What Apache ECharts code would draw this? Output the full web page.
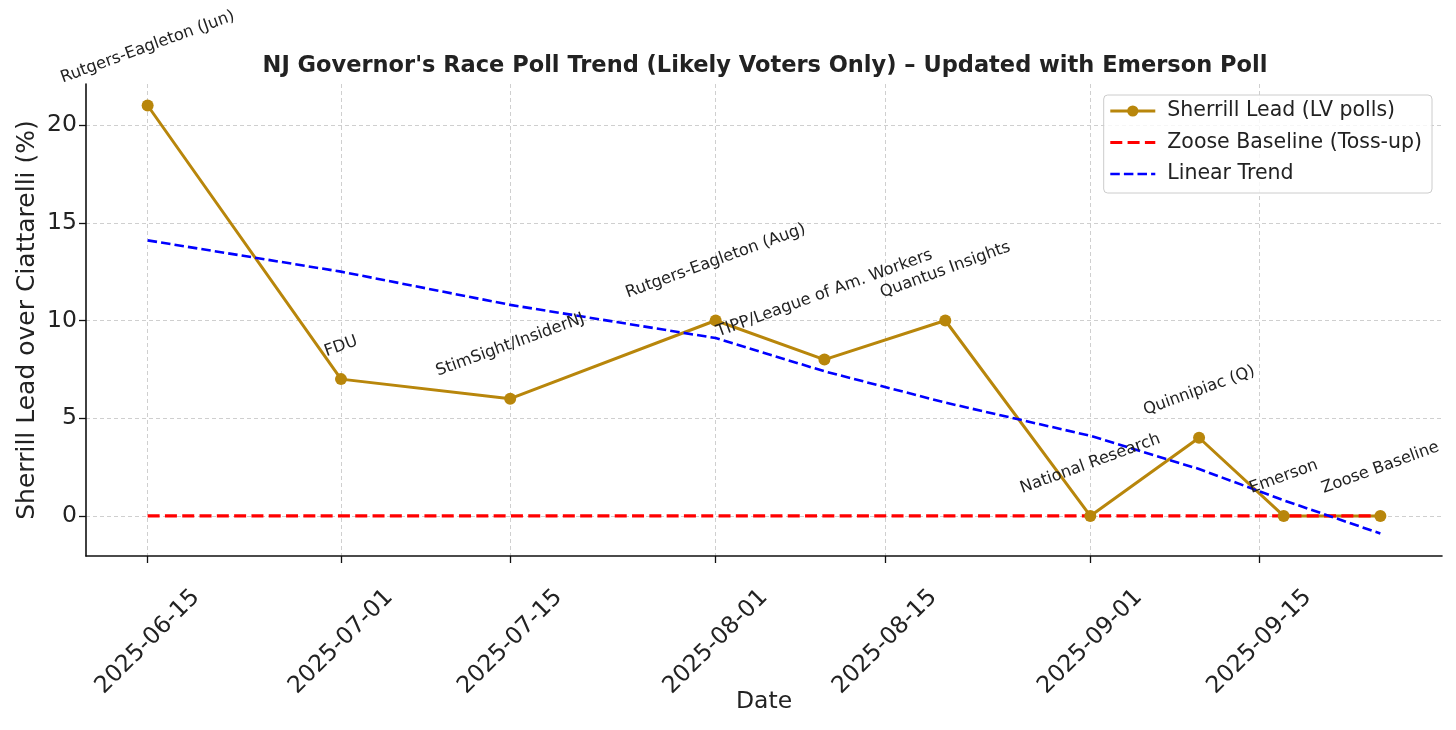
<!DOCTYPE html>
<html>
<head>
<meta charset="utf-8">
<title>NJ Governor's Race Poll Trend</title>
<script src="https://cdn.jsdelivr.net/npm/echarts@6/dist/echarts.min.js"></script>
<style>
  html, body { margin: 0; padding: 0; background: #fff; }
  #chart { width: 1456px; height: 730px; }
</style>
</head>
<body>
<div id="chart"></div>
<script>
// poll data (likely voters only)
var pollDates = ['2025-06-15', '2025-07-01', '2025-07-15', '2025-08-01', '2025-08-10',
                 '2025-08-20', '2025-09-01', '2025-09-10', '2025-09-17', '2025-09-25'];
var pollsters = ['Rutgers-Eagleton (Jun)', 'FDU', 'StimSight/InsiderNJ', 'Rutgers-Eagleton (Aug)',
                 'TIPP/League of Am. Workers', 'Quantus Insights', 'National Research',
                 'Quinnipiac (Q)', 'Emerson', 'Zoose Baseline'];
var sherrillLead = [21, 7, 6, 10, 8, 10, 0, 4, 0, 0];
var trendLead = [14.1, 12.5, 10.8, 9.1, 7.4, 5.8, 4.1, 2.4, 0.8, -0.9];
var baselineDates = ['2025-06-15', '2025-09-25'];
var baselineLead = [0, 0];
var xTickDates = ['2025-06-15', '2025-07-01', '2025-07-15', '2025-08-01',
                  '2025-08-15', '2025-09-01', '2025-09-15'];
var yTickValues = [0, 5, 10, 15, 20];

var FONT = '"DejaVu Sans", sans-serif';
var DAY = 86400000;
var GOLD = '#B8860B', RED = '#ff0000', BLUE = '#0000ff';
// dates go on a plain value axis as UTC ms, so the tick list can be irregular
function t(s) { return Date.parse(s + 'T00:00:00Z'); }
function fmtDate(v) { return new Date(v).toISOString().slice(0, 10); }

// annotations sit a fixed gap above the point, measured from the rotated box
var NOTE_SIZE = 16.3;
var ctx = document.createElement('canvas').getContext('2d');
ctx.font = NOTE_SIZE + 'px "DejaVu Sans"';
function lift(text) {
    var w = ctx.measureText(text).width, a = 20 * Math.PI / 180, h = NOTE_SIZE * 1.17;
    return 18 + (w * Math.sin(a) + h * Math.cos(a)) / 2;
}
var MARK = 12;
var pollData = pollDates.map(function (d, i) {
    return {
        value: [t(d), sherrillLead[i]],
        label: { position: [MARK / 2, MARK / 2 - lift(pollsters[i])] }
    };
});

var chart = echarts.init(document.getElementById('chart'), null, { renderer: 'canvas' });
chart.setOption({
    animation: false,
    backgroundColor: '#fff',
    textStyle: { fontFamily: FONT },
    title: {
        text: "NJ Governor's Race Poll Trend (Likely Voters Only) \u2013 Updated with Emerson Poll",
        left: 760, top: 50, textAlign: 'center',
        textStyle: { fontFamily: FONT, fontSize: 22.5, fontWeight: 'bold', color: '#222' }
    },
    legend: {
        orient: 'vertical', right: 24, top: 95,
        padding: [5, 10, 8, 5],
        itemWidth: 45, itemHeight: 14, itemGap: 9.5,
        borderColor: '#cccccc', borderWidth: 1, borderRadius: 4,
        backgroundColor: 'rgba(255,255,255,0.8)',
        textStyle: { fontFamily: FONT, fontSize: 20.5, color: '#222', lineHeight: 22, padding: [0, 0, 0, 7] },
        data: [
            { name: 'Sherrill Lead (LV polls)', lineStyle: { color: GOLD, width: 3 } },
            { name: 'Zoose Baseline (Toss-up)', itemStyle: { opacity: 0 },
              lineStyle: { color: RED, width: 3.2, type: [12, 5.3] } },
            { name: 'Linear Trend', itemStyle: { opacity: 0 },
              lineStyle: { color: BLUE, width: 2.6, type: [9.5, 4.1] } }
        ]
    },
    grid: { left: 86, right: 14, top: 84, bottom: 174, containLabel: false, outerBoundsMode: 'none' },
    xAxis: {
        type: 'value',
        min: t('2025-06-15') - 5.1 * DAY,
        max: t('2025-09-25') + 5.1 * DAY,
        name: 'Date', nameLocation: 'middle', nameGap: 134, nameMoveOverlap: false,
        nameTextStyle: { fontFamily: FONT, fontSize: 23.5, color: '#222' },
        axisLine: { onZero: false, lineStyle: { color: '#111', width: 1.6 } },
        axisTick: { show: true, length: 7, lineStyle: { color: '#111', width: 1.3 },
                    customValues: xTickDates.map(t) },
        axisLabel: {
            customValues: xTickDates.map(t),
            rotate: 45, align: 'center', verticalAlign: 'middle', margin: 86,
            fontFamily: FONT, fontSize: 23.5, color: '#222',
            formatter: fmtDate
        },
        splitLine: { show: true, lineStyle: { color: '#cfcfcf', width: 1, type: [4, 3] } }
    },
    yAxis: {
        type: 'value', min: -2.05, max: 22.1,
        name: 'Sherrill Lead over Ciattarelli (%)', nameLocation: 'middle', nameGap: 46, nameMoveOverlap: false,
        nameTextStyle: { fontFamily: FONT, fontSize: 25, color: '#222' },
        axisLine: { show: true, onZero: false, lineStyle: { color: '#111', width: 1.6 } },
        axisTick: { show: true, length: 7, lineStyle: { color: '#111', width: 1.3 },
                    customValues: yTickValues },
        axisLabel: { customValues: yTickValues, margin: 9, fontFamily: FONT, fontSize: 23.5, color: '#222' },
        splitLine: { show: true, lineStyle: { color: '#cfcfcf', width: 1, type: [4, 3] } }
    },
    series: [
        {
            name: 'Sherrill Lead (LV polls)', type: 'line', data: pollData,
            symbol: 'circle', symbolSize: MARK,
            itemStyle: { color: GOLD },
            lineStyle: { color: GOLD, width: 3 },
            label: {
                show: true, rotate: 20, align: 'center', verticalAlign: 'middle',
                fontFamily: FONT, fontSize: NOTE_SIZE, color: '#222',
                formatter: function (p) { return pollsters[p.dataIndex]; }
            },
            emphasis: { disabled: true }
        },
        {
            name: 'Zoose Baseline (Toss-up)', type: 'line',
            data: baselineDates.map(function (d, i) { return [t(d), baselineLead[i]]; }),
            symbol: 'none',
            itemStyle: { color: RED },
            lineStyle: { color: RED, width: 3.2, type: [12, 5.3] },
            emphasis: { disabled: true }
        },
        {
            name: 'Linear Trend', type: 'line',
            data: pollDates.map(function (d, i) { return [t(d), trendLead[i]]; }),
            symbol: 'none',
            itemStyle: { color: BLUE },
            lineStyle: { color: BLUE, width: 2.6, type: [9.5, 4.1] },
            emphasis: { disabled: true }
        }
    ]
});
</script>
</body>
</html>
